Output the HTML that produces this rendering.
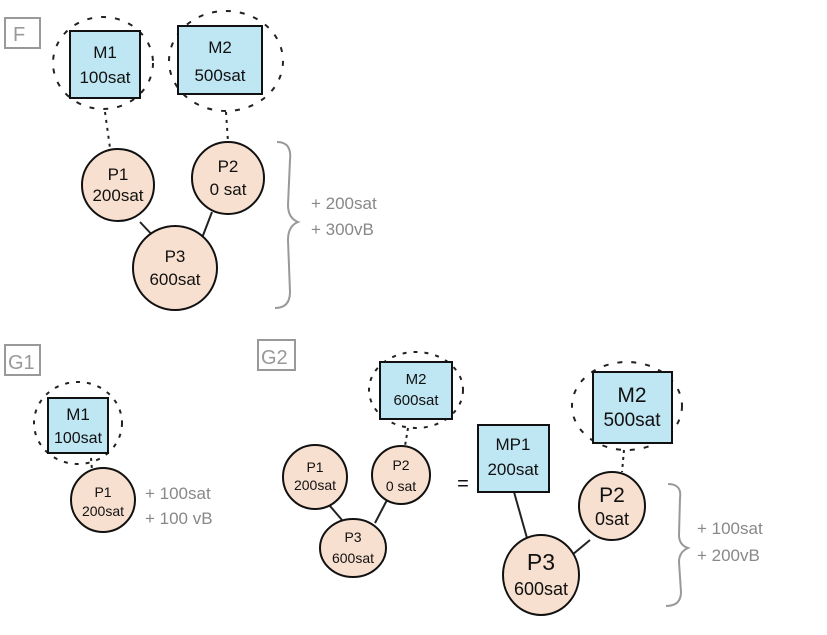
<!DOCTYPE html>
<html><head><meta charset="utf-8"><style>
html,body{margin:0;padding:0;background:#fff;}
svg{display:block}
text{font-family:"Liberation Sans",sans-serif;}
</style></head><body>
<svg width="827" height="635" viewBox="0 0 827 635" xmlns="http://www.w3.org/2000/svg">
<g fill="none" stroke="#222" stroke-width="2">
<ellipse cx="103" cy="63" rx="50" ry="46" stroke-dasharray="5 9"/>
<ellipse cx="226" cy="61" rx="57" ry="50" stroke-dasharray="5 9"/>
<line x1="105" y1="112" x2="110" y2="148" stroke-dasharray="3 5"/>
<line x1="226" y1="112" x2="228" y2="142" stroke-dasharray="3 5"/>
<line x1="140" y1="222" x2="155" y2="238"/>
<line x1="212" y1="212" x2="202" y2="238"/>
<ellipse cx="78" cy="423" rx="44" ry="41" stroke-dasharray="4 7"/>
<line x1="91" y1="458" x2="92" y2="470" stroke-dasharray="3 4"/>
<ellipse cx="416" cy="390" rx="47" ry="38" stroke-dasharray="4 7"/>
<line x1="408" y1="428" x2="405" y2="446" stroke-dasharray="3 4"/>
<line x1="330" y1="506" x2="342" y2="520"/>
<line x1="387" y1="500" x2="375" y2="523"/>
<ellipse cx="627" cy="406" rx="55" ry="44" stroke-dasharray="5 9"/>
<line x1="624" y1="450" x2="622" y2="472" stroke-dasharray="3 4"/>
<line x1="514" y1="492" x2="527" y2="538"/>
<line x1="590" y1="540" x2="572" y2="555"/>
</g>
<g stroke="#111" stroke-width="2">
<rect x="70" y="31" width="70" height="67" fill="#bfe6f3"/>
<rect x="178" y="26" width="84" height="68" fill="#bfe6f3"/>
<circle cx="118" cy="185" r="36" fill="#f8e0d0"/>
<circle cx="228" cy="178" r="36" fill="#f8e0d0"/>
<circle cx="175" cy="268" r="42" fill="#f8e0d0"/>
<rect x="48" y="398" width="60" height="55" fill="#bfe6f3"/>
<circle cx="103" cy="500" r="32" fill="#f8e0d0"/>
<rect x="380" y="362" width="72" height="57" fill="#bfe6f3"/>
<circle cx="315" cy="477" r="32" fill="#f8e0d0"/>
<circle cx="401" cy="475" r="29" fill="#f8e0d0"/>
<ellipse cx="353" cy="548" rx="33" ry="29" fill="#f8e0d0"/>
<rect x="478" y="425" width="71" height="67" fill="#bfe6f3"/>
<rect x="593" y="372" width="79" height="71" fill="#bfe6f3"/>
<ellipse cx="612" cy="506" rx="33" ry="34" fill="#f8e0d0"/>
<ellipse cx="541" cy="575" rx="38" ry="40" fill="#f8e0d0"/>
</g>
<g fill="none" stroke="#999" stroke-width="2">
<rect x="5" y="18" width="35" height="30"/>
<rect x="5" y="345" width="35" height="30"/>
<rect x="258" y="340" width="37" height="30"/>
<path d="M277 142 Q292 142 290 160 L288 205 Q288 218 298 222 Q288 226 288 240 L290 292 Q290 308 275 308"/>
<path d="M668 484 Q682 484 680 498 L679 535 Q679 545 688 548 Q679 552 679 562 L681 592 Q681 606 666 606"/>
</g>
<g font-size="20" fill="#999">
<text x="13" y="41">F</text>
<text x="8" y="369">G1</text>
<text x="261" y="364">G2</text>
</g>
<g font-size="17" fill="#111" text-anchor="middle">
<text x="105" y="58">M1</text><text x="105" y="83">100sat</text>
<text x="220" y="53">M2</text><text x="220" y="81">500sat</text>
<text x="118" y="180">P1</text><text x="118" y="201">200sat</text>
<text x="228" y="172">P2</text><text x="228" y="195">0 sat</text>
<text x="175" y="262">P3</text><text x="175" y="285">600sat</text>
<text x="78" y="420">M1</text><text x="78" y="443" font-size="16">100sat</text>
<text x="103" y="497" font-size="14">P1</text><text x="103" y="516" font-size="14">200sat</text>
<text x="416" y="384" font-size="15">M2</text><text x="416" y="405" font-size="15">600sat</text>
<text x="315" y="472" font-size="14">P1</text><text x="315" y="490" font-size="14">200sat</text>
<text x="401" y="470" font-size="14">P2</text><text x="401" y="491" font-size="14">0 sat</text>
<text x="353" y="542" font-size="14">P3</text><text x="353" y="563" font-size="14">600sat</text>
<text x="463" y="490" font-size="20">=</text>
<text x="513" y="450">MP1</text><text x="513" y="475">200sat</text>
<text x="632" y="402" font-size="21">M2</text><text x="632" y="426" font-size="19">500sat</text>
<text x="612" y="502" font-size="21">P2</text><text x="612" y="525" font-size="18">0sat</text>
<text x="541" y="570" font-size="23">P3</text><text x="541" y="595" font-size="18">600sat</text>
</g>
<g font-size="17" fill="#888">
<text x="311" y="209">+ 200sat</text><text x="311" y="235">+ 300vB</text>
<text x="145" y="499">+ 100sat</text><text x="145" y="524">+ 100 vB</text>
<text x="697" y="534">+ 100sat</text><text x="697" y="561">+ 200vB</text>
</g>
</svg>
</body></html>
